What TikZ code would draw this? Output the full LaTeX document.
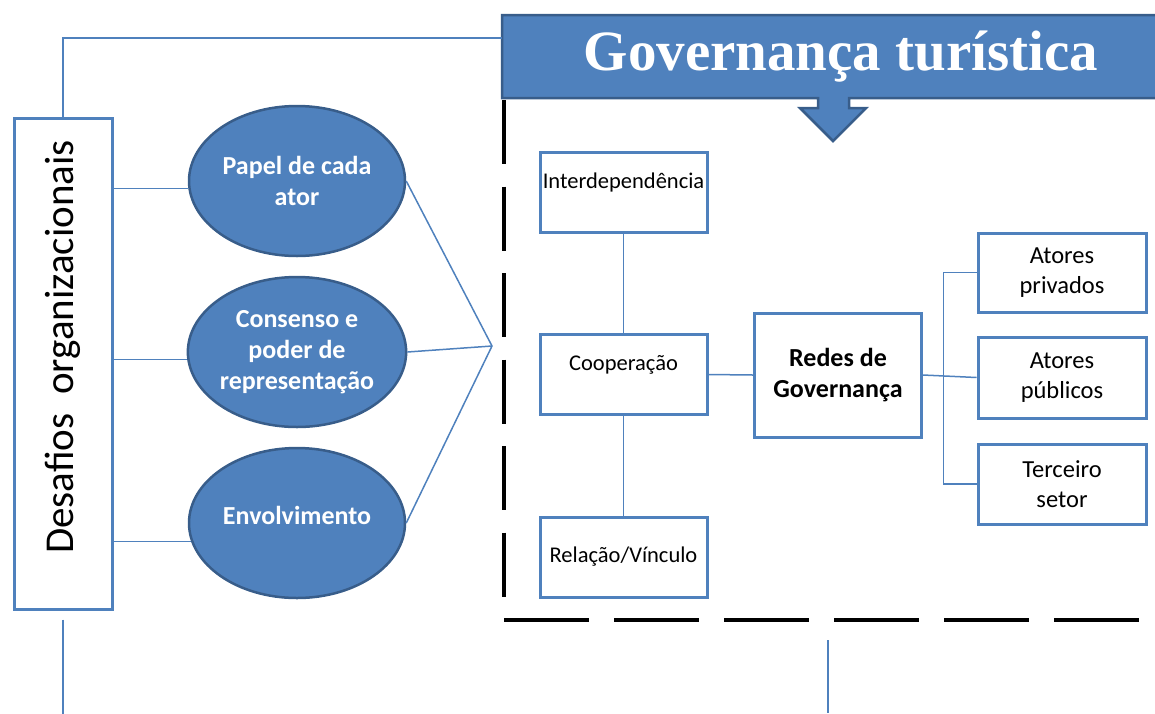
\documentclass[tikz,border=0pt]{standalone}
\usepackage{fontspec}
\setmainfont{Carlito}
\newfontfamily\titlefont{Liberation Serif}
\usetikzlibrary{shapes.geometric}
\definecolor{azul}{RGB}{79,129,189}
\definecolor{azulesc}{RGB}{56,93,138}
\tikzset{
  caixa/.style={draw=azul,line width=3pt,fill=white,minimum width=167pt,minimum height=80pt,inner sep=0pt},
  elipse/.style={ellipse,draw=azulesc,line width=2.5pt,fill=azul,minimum width=216pt,minimum height=150pt,
    inner sep=0pt,text=white,align=center,font=\fontsize{26}{31}\selectfont\bfseries},
  linha/.style={azul,line width=1.5pt},
  tracejado/.style={black,line width=3.5pt,dash pattern=on 64pt off 22.5pt},
  texto/.style={font=\fontsize{22.5}{30}\selectfont,align=center},
  atores/.style={caixa,align=center,font=\fontsize{24.5}{30}\selectfont,minimum width=168pt}
}
\begin{document}
\begin{tikzpicture}[x=1pt,y=-1pt]
  \useasboundingbox (0,0) rectangle (1155,713);
  % moldura tracejada
  \draw[tracejado] (504,100) -- (504,600);
  \draw[tracejado,dash pattern=on 85pt off 25pt] (504,620) -- (1150,620);
  % titulo com seta
  \draw[azulesc,line width=2.5pt,fill=azul] (502,15) -- (1175,15) -- (1175,98) -- (849,98) -- (849,108)
    -- (866,108) -- (833,141) -- (800,108) -- (818,108) -- (818,98) -- (502,98) -- cycle;
  \node[text=white,font=\titlefont\fontsize{57}{60}\selectfont\bfseries] (titulo) at (841,57) {Governança turística};
  \coordinate (tit) at (502,38);
  % desafios
  \node[draw=azul,line width=3pt,minimum width=98pt,minimum height=491pt] (desafios) at (63,363.5) {};
  \node[rotate=90,font=\fontsize{41}{44}\selectfont] (t-desafios) at (63,347) {Desafios\ \ organizacionais};
  \draw[linha] (desafios.north) |- (tit);
  \draw[linha] ([yshift=-9pt]desafios.south) -- ++(0,105);
  \node[elipse] (papel) at (297,181) {Papel de cada\\ator};
  \node[elipse] (consenso) at (297,352) {Consenso e\\poder de\\representação};
  \node[elipse] (envolv) at (297,523) {};
  \node[text=white,font=\fontsize{26}{31}\selectfont\bfseries] (t-envolv) at ([yshift=8pt]envolv) {Envolvimento};
  \draw[linha] (desafios.east |- papel.184) -- (papel.184);
  \draw[linha] (desafios.east |- consenso.184) -- (consenso.184);
  \draw[linha] (desafios.east |- envolv.190) -- (envolv.190);
  \coordinate (foco) at (492,346);
  \draw[linha] (papel.east) -- (foco) -- (envolv.east);
  \draw[linha] (consenso.east) -- (foco);
  % redes
  \node[caixa] (interd) at (623.5,192) {};
  \node[texto] (t-interd) at ([yshift=10pt]interd) {Interdependência};
  \node[caixa] (coop) at (623.5,374.5) {};
  \node[texto] (t-coop) at ([yshift=10pt]coop) {Cooperação};
  \node[caixa] (relacao) at (623.5,557) {};
  \node[texto] (t-relacao) at (relacao) {Relação/Vínculo};
  \draw[linha] (interd.south) -- (coop.north);
  \draw[linha] (coop.south) -- (relacao.north);
  \node[caixa,minimum height=124pt,font=\fontsize{26}{31}\selectfont\bfseries,align=center] (redes) at (838,375) {Redes de\\Governança};
  \draw[linha] (coop.east) -- (redes.west);
  \node[atores,minimum height=79pt] (privados) at (1062,272.5) {Atores\\privados};
  \node[atores,minimum height=81pt] (publicos) at (1062,377.5) {Atores\\públicos};
  \node[atores] (terceiro) at (1062,484) {Terceiro\\setor};
  \draw[linha] (privados.west) -- ++(-33,0) |- (terceiro.west);
  \draw[linha] (redes.east) -- (publicos.west);
  \draw[linha] (828,640) -- (828,713);
\end{tikzpicture}
\end{document}
